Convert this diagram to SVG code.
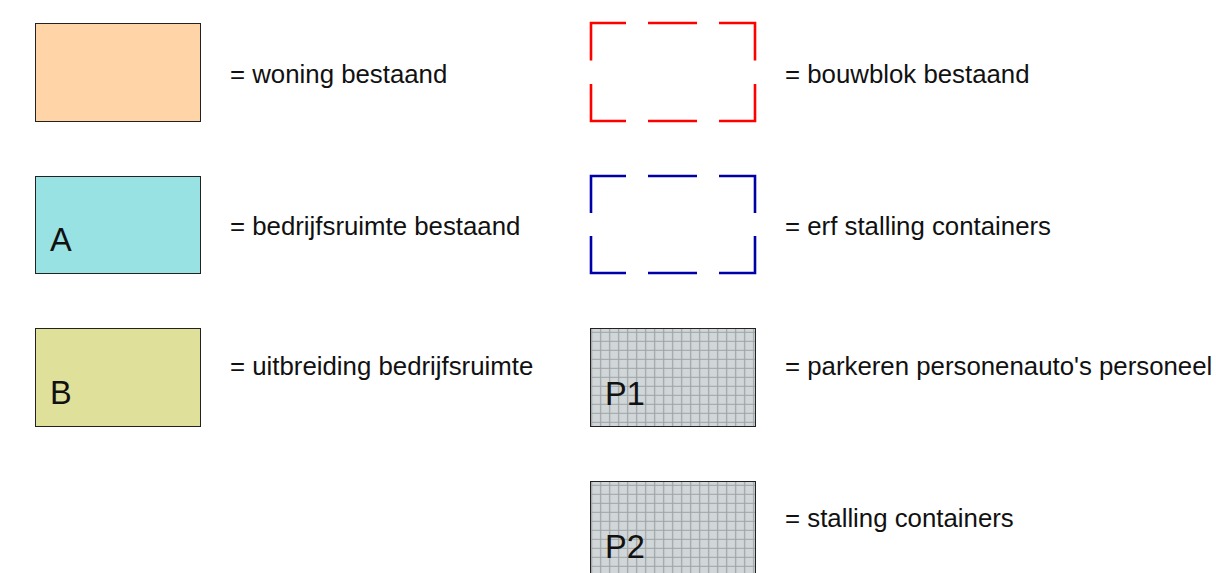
<svg xmlns="http://www.w3.org/2000/svg" width="1216" height="573" viewBox="0 0 1216 573">
<defs>
<pattern id="grid" patternUnits="userSpaceOnUse" x="587.2" y="327.8" width="9" height="9">
<rect width="9" height="9" fill="#d1d6d9"/>
<path d="M4.5,0 V9 M0,4.5 H9" stroke="#9ea4a6" stroke-width="1.2" fill="none"/>
</pattern>
<style>
.box{stroke:#222;stroke-width:1}
.lbl{font-family:"Liberation Sans",Arial,sans-serif;font-size:25.8px;fill:#111}
.big{font-family:"Liberation Sans",Arial,sans-serif;font-size:32.5px;fill:#111}
.red{fill:none;stroke:#ff0000;stroke-width:2.6}
.blue{fill:none;stroke:#0000a8;stroke-width:2.6}
</style>
</defs>
<rect width="1216" height="573" fill="#ffffff"/>
<g id="woning">
<rect class="box" x="35.5" y="23.5" width="165" height="98" fill="#ffd5a8"/>
<text class="lbl" x="230" y="82.5">= woning bestaand</text>
</g>
<g id="bedrijfsruimte">
<rect class="box" x="35.5" y="176.5" width="165" height="97" fill="#99e2e3"/>
<text class="big" x="50" y="251">A</text>
<text class="lbl" x="230" y="234.5">= bedrijfsruimte bestaand</text>
</g>
<g id="uitbreiding">
<rect class="box" x="35.5" y="328.5" width="165" height="98" fill="#dfe09a"/>
<text class="big" x="50" y="404">B</text>
<text class="lbl" x="230" y="375">= uitbreiding bedrijfsruimte</text>
</g>
<g id="bouwblok">
<path class="red" d="M591,60.5 V23 H626 M648,23 H697 M719,23 H755 V60.5 M591,84 V121 H626 M648,121 H697 M719,121 H755 V84"/>
<text class="lbl" x="785" y="82.5">= bouwblok bestaand</text>
</g>
<g id="erf">
<path class="blue" d="M591,213 V176 H626 M648,176 H697 M719,176 H755 V213 M591,236 V273 H626 M648,273 H697 M719,273 H755 V236"/>
<text class="lbl" x="785" y="234.5">= erf stalling containers</text>
</g>
<g id="p1">
<rect class="box" x="590.5" y="328.5" width="165" height="98" fill="url(#grid)"/>
<text class="big" x="605" y="405">P1</text>
<text class="lbl" x="785" y="375">= parkeren personenauto's personeel</text>
</g>
<g id="p2">
<rect class="box" x="590.5" y="481.5" width="165" height="100" fill="url(#grid)"/>
<text class="big" x="605" y="558">P2</text>
<text class="lbl" x="785" y="527">= stalling containers</text>
</g>
<g id="connectors"/>
</svg>
